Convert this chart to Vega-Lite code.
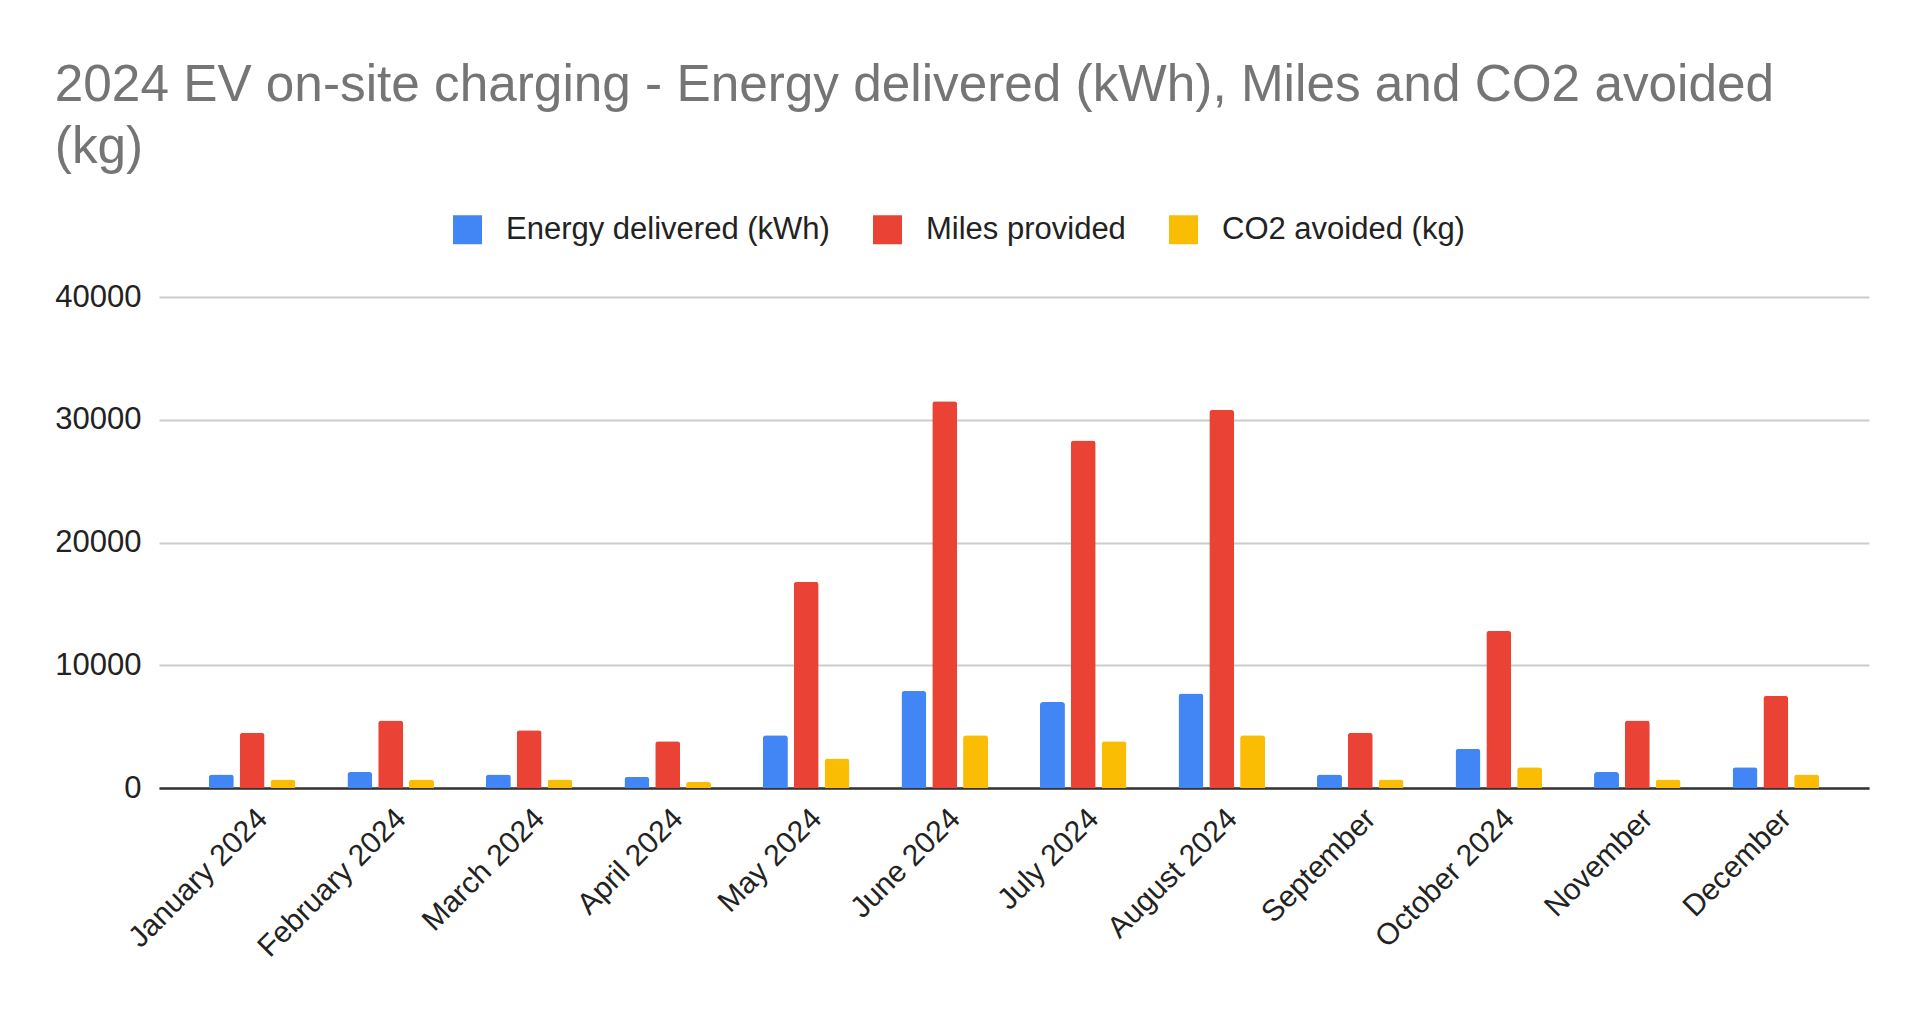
{
  "$schema": "https://vega.github.io/schema/vega-lite/v6.json",
  "background": "white",
  "padding": {"left": 54, "top": 59, "right": 40, "bottom": 20},
  "width": 1710,
  "height": 491,
  "title": {
    "text": ["2024 EV on-site charging - Energy delivered (kWh), Miles and CO2 avoided", "(kg)"],
    "anchor": "start",
    "frame": "bounds",
    "font": "Liberation Sans",
    "fontSize": 51.3,
    "fontWeight": "normal",
    "color": "#757575",
    "lineHeight": 62,
    "offset": 41
  },
  "data": {
    "values": [
      {"month": "January 2024", "series": "Energy delivered (kWh)", "value": 1100},
      {"month": "January 2024", "series": "Miles provided", "value": 4500},
      {"month": "January 2024", "series": "CO2 avoided (kg)", "value": 700},
      {"month": "February 2024", "series": "Energy delivered (kWh)", "value": 1300},
      {"month": "February 2024", "series": "Miles provided", "value": 5500},
      {"month": "February 2024", "series": "CO2 avoided (kg)", "value": 700},
      {"month": "March 2024", "series": "Energy delivered (kWh)", "value": 1100},
      {"month": "March 2024", "series": "Miles provided", "value": 4700},
      {"month": "March 2024", "series": "CO2 avoided (kg)", "value": 700},
      {"month": "April 2024", "series": "Energy delivered (kWh)", "value": 900},
      {"month": "April 2024", "series": "Miles provided", "value": 3800},
      {"month": "April 2024", "series": "CO2 avoided (kg)", "value": 500},
      {"month": "May 2024", "series": "Energy delivered (kWh)", "value": 4300},
      {"month": "May 2024", "series": "Miles provided", "value": 16800},
      {"month": "May 2024", "series": "CO2 avoided (kg)", "value": 2400},
      {"month": "June 2024", "series": "Energy delivered (kWh)", "value": 7900},
      {"month": "June 2024", "series": "Miles provided", "value": 31500},
      {"month": "June 2024", "series": "CO2 avoided (kg)", "value": 4300},
      {"month": "July 2024", "series": "Energy delivered (kWh)", "value": 7000},
      {"month": "July 2024", "series": "Miles provided", "value": 28300},
      {"month": "July 2024", "series": "CO2 avoided (kg)", "value": 3800},
      {"month": "August 2024", "series": "Energy delivered (kWh)", "value": 7700},
      {"month": "August 2024", "series": "Miles provided", "value": 30800},
      {"month": "August 2024", "series": "CO2 avoided (kg)", "value": 4300},
      {"month": "September", "series": "Energy delivered (kWh)", "value": 1100},
      {"month": "September", "series": "Miles provided", "value": 4500},
      {"month": "September", "series": "CO2 avoided (kg)", "value": 700},
      {"month": "October 2024", "series": "Energy delivered (kWh)", "value": 3200},
      {"month": "October 2024", "series": "Miles provided", "value": 12800},
      {"month": "October 2024", "series": "CO2 avoided (kg)", "value": 1700},
      {"month": "November", "series": "Energy delivered (kWh)", "value": 1300},
      {"month": "November", "series": "Miles provided", "value": 5500},
      {"month": "November", "series": "CO2 avoided (kg)", "value": 700},
      {"month": "December", "series": "Energy delivered (kWh)", "value": 1700},
      {"month": "December", "series": "Miles provided", "value": 7500},
      {"month": "December", "series": "CO2 avoided (kg)", "value": 1100}
    ]
  },
  "mark": {"type": "bar", "cornerRadiusTopLeft": 3, "cornerRadiusTopRight": 3},
  "encoding": {
    "x": {
      "field": "month",
      "type": "nominal",
      "sort": null,
      "scale": {"paddingInner": 0.375, "paddingOuter": 0.36},
      "axis": {
        "title": null,
        "labelAngle": -45,
        "labelAlign": "right",
        "labelBaseline": "top",
        "labelFont": "Liberation Sans",
        "labelFontSize": 30,
        "labelColor": "#222222",
        "labelPadding": 15,
        "labelLimit": 0,
        "ticks": false,
        "domainColor": "#333333",
        "domainWidth": 2.5
      }
    },
    "xOffset": {
      "field": "series",
      "type": "nominal",
      "sort": ["Energy delivered (kWh)", "Miles provided", "CO2 avoided (kg)"],
      "scale": {"paddingInner": 0.19, "paddingOuter": 0}
    },
    "y": {
      "field": "value",
      "type": "quantitative",
      "scale": {"domain": [0, 40000], "nice": false},
      "axis": {
        "title": null,
        "values": [0, 10000, 20000, 30000, 40000],
        "format": "d",
        "labelFont": "Liberation Sans",
        "labelFontSize": 31,
        "labelColor": "#222222",
        "labelPadding": 18,
        "ticks": false,
        "domain": false,
        "gridColor": "#cccccc",
        "gridWidth": 2
      }
    },
    "color": {
      "field": "series",
      "type": "nominal",
      "scale": {
        "domain": ["Energy delivered (kWh)", "Miles provided", "CO2 avoided (kg)"],
        "range": ["#4285F4", "#EA4335", "#FBBC04"]
      },
      "legend": {
        "title": null,
        "orient": "none",
        "direction": "horizontal",
        "legendX": 293,
        "legendY": -83,
        "symbolType": "square",
        "symbolSize": 841,
        "symbolStrokeWidth": 0,
        "symbolOpacity": 1,
        "labelFont": "Liberation Sans",
        "labelFontSize": 31,
        "labelColor": "#222222",
        "labelOffset": 23,
        "labelLimit": 0,
        "columnPadding": 42,
        "padding": 0
      }
    }
  },
  "config": {
    "view": {"stroke": null}
  }
}
